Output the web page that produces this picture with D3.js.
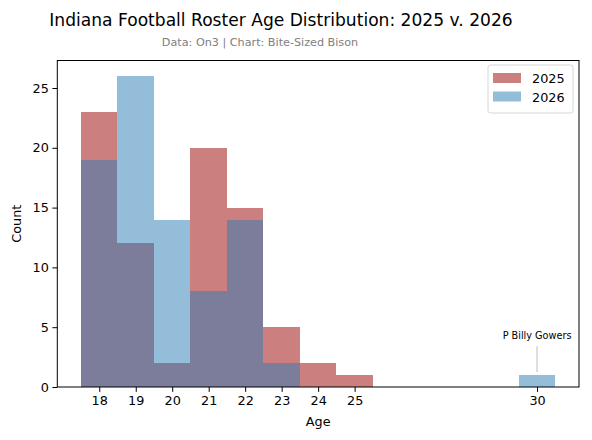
<!DOCTYPE html>
<html>
<head>
<meta charset="utf-8">
<script src="https://cdn.jsdelivr.net/npm/d3@7"></script>
<style>
  body { margin: 0; background: #fff; }
  text { font-family: "DejaVu Sans", sans-serif; }
</style>
</head>
<body>
<div id="chart"></div>
<script>
// ages on the x axis (one bin per year)
const ages = [18, 19, 20, 21, 22, 23, 24, 25, 30]
// players per age
const counts2025 = [23, 12, 2, 20, 15, 5, 2, 1, 0]
const counts2026 = [19, 26, 14, 8, 14, 2, 0, 0, 1]
const seriesNames = ["2025", "2026"]
const yTicks = [0, 5, 10, 15, 20, 25]
const xTicks = [18, 19, 20, 21, 22, 23, 24, 25, 30]
// callout for the lone 30 year old
const note = { label: "P Billy Gowers", age: 30, from: 1.25, to: 3.4, textY: 4 }

const W = 592, H = 440
const margin = { top: 60.5, right: 13, bottom: 53, left: 57.3 }
const width = W - margin.left - margin.right,
    height = H - margin.top - margin.bottom

const colors = ["#990000", "#297bb5"]

const svg = d3.select("#chart").append("svg")
    .attr("width", W)
    .attr("height", H)

svg.append("text")
    .attr("x", 281).attr("y", 25.5)
    .attr("text-anchor", "middle")
    .attr("font-size", 17.1)
    .attr("fill", "#000")
    .text("Indiana Football Roster Age Distribution: 2025 v. 2026")

svg.append("text")
    .attr("x", 260).attr("y", 46)
    .attr("text-anchor", "middle")
    .attr("font-size", 11.2)
    .attr("fill", "#808080")
    .text("Data: On3 | Chart: Bite-Sized Bison")

const g = svg.append("g")
    .attr("transform", "translate(" + margin.left + "," + margin.top + ")")

// bins run from age-0.5 to age+0.5, matplotlib adds 5% padding
let lo = d3.min(ages) - 0.5, hi = d3.max(ages) + 0.5, pad = (hi - lo) * 0.05
let x = d3.scaleLinear()
    .domain([lo - pad, hi + pad])
    .range([0, width])

let maxY = d3.max(counts2025.concat(counts2026))
let y = d3.scaleLinear()
    .domain([0, maxY * 1.05])
    .range([height, 0])

const series = [counts2025, counts2026]

series.forEach((vals, s) => {
    g.append("g").selectAll("rect")
        .data(ages.map((a, i) => ({ age: a, value: vals[i] })).filter(d => d.value > 0))
        .enter().append("rect")
        .attr("x", d => x(d.age - 0.5))
        .attr("width", d => x(d.age + 0.5) - x(d.age - 0.5))
        .attr("y", d => y(d.value))
        .attr("height", d => y(0) - y(d.value))
        .attr("fill", colors[s])
        .attr("fill-opacity", 0.5)
        .attr("shape-rendering", "crispEdges")
})

// annotation
g.append("line")
    .attr("x1", x(note.age)).attr("x2", x(note.age))
    .attr("y1", y(note.from)).attr("y2", y(note.to))
    .attr("stroke", "#c8c8c8")
    .attr("stroke-width", 1.2)
g.append("text")
    .attr("x", x(note.age)).attr("y", y(note.textY))
    .attr("text-anchor", "middle")
    .attr("font-size", 9.7)
    .text(note.label)

// axes
let xAxis = g.append("g")
    .attr("transform", "translate(0," + height + ")")
    .call(d3.axisBottom(x).tickValues(xTicks).tickFormat(d3.format("d")).tickSize(4.9).tickSizeOuter(0))
let yAxis = g.append("g")
    .call(d3.axisLeft(y).tickValues(yTicks).tickSize(4.9).tickSizeOuter(0))

;[xAxis, yAxis].forEach(ax => {
    ax.select(".domain").remove()
    ax.selectAll("text").attr("font-size", 12.8).attr("font-family", "DejaVu Sans").attr("fill", "#000")
    ax.selectAll("line").attr("stroke", "#000").attr("stroke-width", 1)
})
xAxis.selectAll("text").attr("dy", "0.71em").attr("y", 8.5)
yAxis.selectAll("text").attr("x", -8.5)

// frame
g.append("rect")
    .attr("width", width).attr("height", height)
    .attr("fill", "none")
    .attr("stroke", "#000")
    .attr("stroke-width", 1)

svg.append("text")
    .attr("x", margin.left + width / 2).attr("y", 426)
    .attr("text-anchor", "middle")
    .attr("font-size", 12.8)
    .text("Age")

svg.append("text")
    .attr("transform", "translate(21," + (margin.top + height / 2) + ") rotate(-90)")
    .attr("text-anchor", "middle")
    .attr("font-size", 12.8)
    .text("Count")

// legend
let legend = g.append("g").attr("transform", "translate(" + (width - 91) + ",4.5)")
legend.append("rect")
    .attr("width", 85).attr("height", 48)
    .attr("rx", 2.5)
    .attr("fill", "#fff").attr("fill-opacity", 0.8)
    .attr("stroke", "#d6d6d6")
seriesNames.forEach((name, i) => {
    let row = legend.append("g").attr("transform", "translate(5," + (8 + i * 18.5) + ")")
    row.append("rect")
        .attr("width", 28).attr("height", 10)
        .attr("fill", colors[i]).attr("fill-opacity", 0.5)
    row.append("text")
        .attr("x", 39).attr("y", 10)
        .attr("font-size", 12.8)
        .text(name)
})
</script>
</body>
</html>
